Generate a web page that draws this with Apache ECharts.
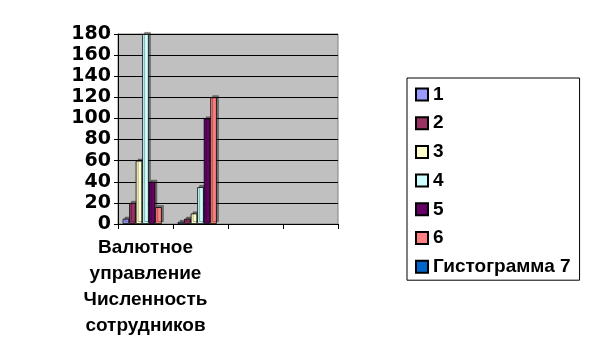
<!DOCTYPE html>
<html><head><meta charset="utf-8">
<script src="https://cdn.jsdelivr.net/npm/echarts@6/dist/echarts.min.js"></script>
<style>html,body{margin:0;padding:0;background:#fff}#c{width:592px;height:360px}</style>
</head><body><div id="c"></div>
<script>
const categories = ["Валютное\nуправление\nЧисленность\nсотрудников", "", "", ""];
const seriesNames = ["1", "2", "3", "4", "5", "6", "Гистограмма 7"];
const s1 = [5, 2, null, null];
const s2 = [20, 5, null, null];
const s3 = [60, 10, null, null];
const s4 = [180, 35, null, null];
const s5 = [40, 100, null, null];
const s6 = [16, 120, null, null];
const s7 = [null, null, null, null];
const colors = ["#9999FF", "#993366", "#FFFFCC", "#CCFFFF", "#660066", "#FF8080", "#0066CC"];
const yTicks = [0, 20, 40, 60, 80, 100, 120, 140, 160, 180];

const allData = [s1, s2, s3, s4, s5, s6, s7];
const font = "Arial, 'Liberation Sans', sans-serif";
const wide = "'DejaVu Sans', sans-serif";
const chart = echarts.init(document.getElementById('c'), null, {renderer: 'canvas'});
chart.setOption({
  animation: false,
  color: colors,
  grid: {left: 118, right: 254, top: 34, bottom: 136, show: true, backgroundColor: '#C0C0C0', borderColor: '#808080', borderWidth: 1},
  legend: {
    orient: 'vertical', left: 407, top: 78,
    data: seriesNames,
    borderColor: '#000', borderWidth: 1,
    padding: [7, 9, 4, 8],
    itemWidth: 12, itemHeight: 12, itemGap: 9.7,
    icon: 'rect',
    textStyle: {fontFamily: font, fontWeight: 'bold', fontSize: 19, color: '#000', lineHeight: 19}
  },
  xAxis: {
    type: 'category', data: categories,
    axisLine: {show: true, lineStyle: {color: '#000'}},
    axisTick: {show: true, alignWithLabel: false, length: 5, lineStyle: {color: '#000'}},
    axisLabel: {interval: 0, fontFamily: font, fontWeight: 'bold', fontSize: 19, color: '#000', lineHeight: 26, margin: 11}
  },
  yAxis: {
    type: 'value', min: yTicks[0], max: yTicks[yTicks.length - 1], interval: 20,
    axisLine: {show: true, lineStyle: {color: '#000'}},
    axisTick: {show: true, length: 4, lineStyle: {color: '#000'}},
    splitLine: {lineStyle: {color: '#000', width: 1}},
    axisLabel: {fontFamily: wide, fontWeight: 'bold', fontSize: 19, color: '#000', margin: 7}
  },
  series: seriesNames.map((n, i) => ({
    name: n, type: 'bar', data: allData[i],
    barGap: '0%', barCategoryGap: '17%',
    itemStyle: {color: colors[i], borderColor: '#000', borderWidth: 0.8,
      shadowColor: 'rgba(0,0,0,0.4)', shadowOffsetX: 2, shadowOffsetY: -2, shadowBlur: 0}
  }))
});
</script></body></html>
